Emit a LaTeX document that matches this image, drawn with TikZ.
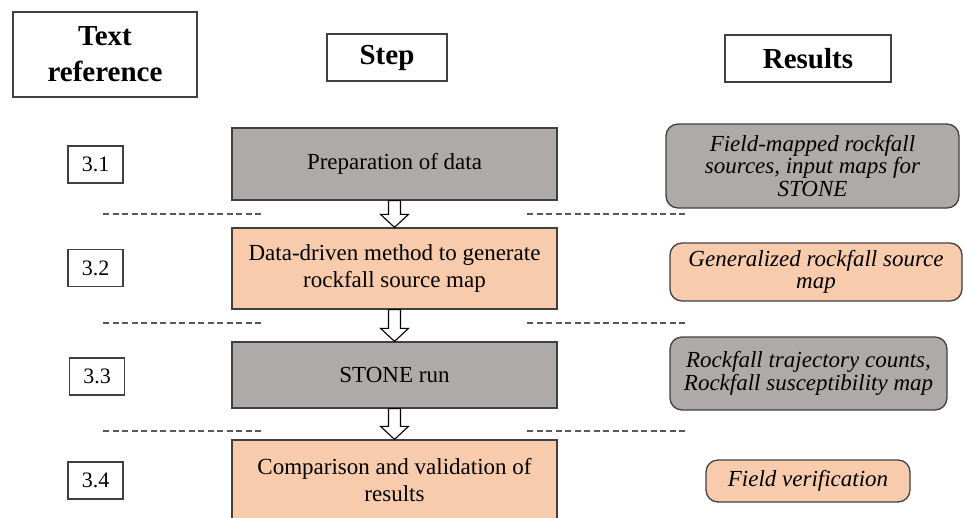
\documentclass[tikz,border=0pt]{standalone}
\usepackage{fontspec}
\setmainfont{Liberation Serif}
\usetikzlibrary{calc}
\definecolor{boxgray}{HTML}{AEAAAA}
\definecolor{boxorange}{HTML}{F8CBAD}
\definecolor{edgec}{HTML}{404040}
\definecolor{dashc}{HTML}{595959}
\newcommand\hollowarrow[2]{%
  \draw[barrow] let \p1=(#1.south), \p2=(#2.north) in
    (\x1-6pt,\y1) -- (\x1+6pt,\y1) -- (\x1+6pt,\y2+13pt) -- (\x1+14pt,\y2+13pt)
    -- (\x1,\y2) -- (\x1-14pt,\y2+13pt) -- (\x1-6pt,\y2+13pt) -- cycle;}
\begin{document}
\begin{tikzpicture}[x=1pt,y=-1pt,
  hdr/.style={draw=edgec, line width=1.3pt, fill=white, inner sep=0pt, align=center,
    font=\fontsize{29}{36}\selectfont\bfseries},
  num/.style={draw=edgec, line width=1.2pt, minimum width=55pt, minimum height=37pt,
    inner sep=0pt, font=\fontsize{22}{26}\selectfont},
  stepbox/.style={draw=edgec, line width=1.3pt, minimum width=325pt, inner sep=0pt,
    align=center, font=\fontsize{23}{27}\selectfont},
  resbox/.style={draw=edgec, line width=1.3pt, rounded corners=12pt, inner sep=0pt,
    align=center, font=\fontsize{23}{22.5}\selectfont\itshape},
  sep/.style={draw=dashc, line width=1.1pt, dash pattern=on 6pt off 3.5pt},
  barrow/.style={draw=black, line width=1.1pt, fill=white, line join=miter}
]
\useasboundingbox (0,0) rectangle (963,517);

% headers
\node[hdr, minimum width=184pt, minimum height=85pt] (h1) at (105,54.5) {Text\\reference};
\node[hdr, minimum width=120pt, minimum height=47pt] (h2) at (387,57.5) {Step};
\node[hdr, minimum width=166pt, minimum height=47pt] (h3) at (808,58.5) {Results};

% section numbers
\node[num] (n1) at (95.5,164.5) {3.1};
\node[num] (n2) at (95.5,268) {3.2};
\node[num] (n3) at (97,376.5) {3.3};
\node[num] (n4) at (95.5,480.5) {3.4};

% steps
\node[stepbox, fill=boxgray, minimum height=72pt] (s1) at (394.5,164) {Preparation of data};
\node[stepbox, fill=boxorange, minimum height=81pt] (s2) at (394.5,268.5) {Data-driven method to generate\\rockfall source map};
\node[stepbox, fill=boxgray, minimum height=66pt] (s3) at (394.5,375) {STONE run};
\node[stepbox, fill=boxorange, minimum height=80pt] (s4) at (394.5,480) {Comparison and validation of\\results};

% results
\node[resbox, fill=boxgray, minimum width=293pt, minimum height=84pt] (r1) at (812.5,166) {Field-mapped rockfall\\sources, input maps for\\STONE};
\node[resbox, fill=boxorange, minimum width=292pt, minimum height=58pt] (r2) at (816,272) {Generalized rockfall source\\map};
\node[resbox, fill=boxgray, minimum width=277pt, minimum height=73pt] (r3) at (808.5,373.5) {Rockfall trajectory counts,\\Rockfall susceptibility map};
\node[resbox, fill=boxorange, minimum width=204pt, minimum height=42pt] (r4) at (808,481) {Field verification};

% separators
\foreach \yy in {214,323,431}{
  \draw[sep] (103,\yy) -- (263,\yy);
  \draw[sep] (527,\yy) -- (688,\yy);
}

% block arrows
\hollowarrow{s1}{s2}
\hollowarrow{s2}{s3}
\hollowarrow{s3}{s4}
\end{tikzpicture}
\end{document}
